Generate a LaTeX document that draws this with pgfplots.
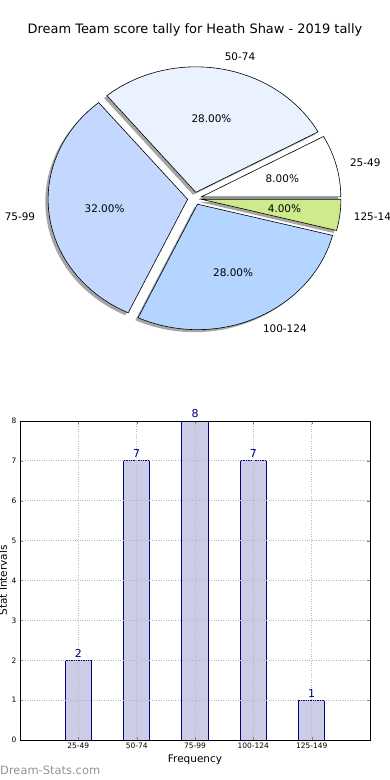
\documentclass[border=0pt]{standalone}
\usepackage{pgfplots}
\pgfplotsset{compat=1.18}
\usepackage{fontspec}
\setmainfont{DejaVu Sans}
\definecolor{sA}{RGB}{255,255,255}
\definecolor{sB}{RGB}{234,241,255}
\definecolor{sC}{RGB}{196,216,255}
\definecolor{sD}{RGB}{179,213,255}
\definecolor{sE}{RGB}{205,235,139}
\definecolor{barfill}{RGB}{204,204,230}
\definecolor{navyc}{RGB}{0,0,128}
% slice: start angle, end angle
\newcommand\pieshadow[2]{%
  \addplot[draw=none, fill=black, fill opacity=0.35, domain=#1:#2, samples=40]
   ({-0.02+0.05*cos((#1+#2)/2)+cos(x)}, {-0.02+0.05*sin((#1+#2)/2)+sin(x)})
   -- (axis cs:{-0.02+0.05*cos((#1+#2)/2)},{-0.02+0.05*sin((#1+#2)/2)}) -- cycle;}
% slice: start, end, colour, label, pct, anchor
\newcommand\pieslice[6]{%
  \addplot[draw=black, line width=0.6bp, fill=#3, domain=#1:#2, samples=40]
   ({0.05*cos((#1+#2)/2)+cos(x)}, {0.05*sin((#1+#2)/2)+sin(x)})
   -- (axis cs:{0.05*cos((#1+#2)/2)},{0.05*sin((#1+#2)/2)}) -- cycle;
  \node[anchor=#6, inner sep=0pt, font=\fontsize{10.5}{12}\selectfont]
   at (axis cs:{1.15*cos((#1+#2)/2)},{1.15*sin((#1+#2)/2)}) {#4};
  \node[inner sep=0pt, font=\fontsize{10.5}{12}\selectfont]
   at (axis cs:{0.65*cos((#1+#2)/2)},{0.65*sin((#1+#2)/2)}) {#5};}
\begin{document}
\begin{tikzpicture}
\useasboundingbox (0,0) rectangle (390bp,780bp);
% ---------------- pie -----------------
% counts 2, 7, 8, 7, 1 of 25 -> 8%, 28%, 32%, 28%, 4%
\begin{axis}[at={(0bp,400bp)}, anchor=south west, scale only axis,
  width=390bp, height=380bp, hide axis, clip=false,
  xmin=-1.3943, xmax=1.4014, ymin=-1.4462, ymax=1.5817]
 \pieshadow{0}{28.8}
 \pieshadow{28.8}{129.6}
 \pieshadow{129.6}{244.8}
 \pieshadow{244.8}{345.6}
 \pieshadow{345.6}{360}
 \pieslice{0}{28.8}{sA}{25-49}{8.00\%}{west}
 \pieslice{28.8}{129.6}{sB}{50-74}{28.00\%}{west}
 \pieslice{129.6}{244.8}{sC}{75-99}{32.00\%}{east}
 \pieslice{244.8}{345.6}{sD}{100-124}{28.00\%}{west}
 \pieslice{345.6}{360}{sE}{125-149}{4.00\%}{west}
\end{axis}
\node[font=\fontsize{13}{15}\selectfont] at (195bp,750bp) {Dream Team score tally for Heath Shaw - 2019 tally};
% ---------------- bars -----------------
\begin{axis}[at={(20bp,40bp)}, anchor=south west, scale only axis,
  width=350bp, height=319bp,
  xmin=-1, xmax=5, ymin=0, ymax=8,
  xtick={0,1,2,3,4}, xticklabels={25-49,50-74,75-99,100-124,125-149},
  ytick={0,1,2,3,4,5,6,7,8},
  /pgf/number format/assume math mode=true,
  tick label style={font=\fontsize{7.5}{9}\selectfont},
  xticklabel style={yshift=1bp},
  grid=major, grid style={dotted, gray!55, line width=0.9bp},
  axis on top, tick align=inside, major tick length=3bp,
  axis line style={line width=0.8bp},
  xlabel={Frequency}, ylabel={Stat Intervals},
  label style={font=\fontsize{10.5}{12}\selectfont},
  xlabel style={at={(axis description cs:0.5,0)}, anchor=center, yshift=-20bp},
  ylabel style={at={(axis description cs:-0.0486,0.5)}, anchor=center},
  ]
 \addplot[ybar, bar width=0.45, fill=barfill, draw=navyc, line width=0.8bp,
   nodes near coords, nodes near coords style={navyc, font=\fontsize{11}{13}\selectfont, inner sep=2.5bp}]
   coordinates {(0,2) (1,7) (2,8) (3,7) (4,1)};
\end{axis}
\node[anchor=west, inner sep=0pt, text=gray!85, font=\fontsize{11.5}{13}\selectfont] at (0bp,10bp) {Dream-Stats.com};
\end{tikzpicture}
\end{document}
